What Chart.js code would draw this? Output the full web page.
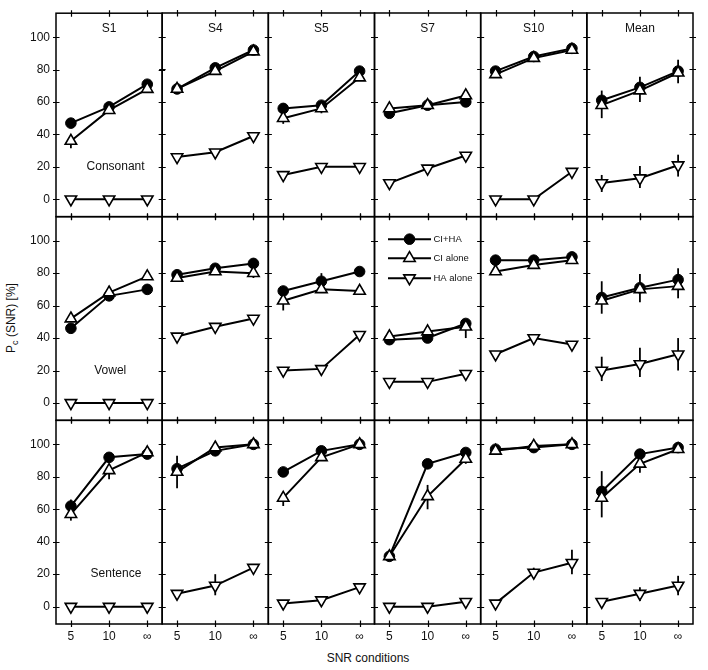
<!DOCTYPE html>
<html><head><meta charset="utf-8">
<script src="https://cdn.jsdelivr.net/npm/chart.js@4/dist/chart.umd.min.js"></script>
<style>
html,body{margin:0;padding:0;background:#fff;}
#wrap{position:relative;width:708px;height:670px;overflow:hidden;font-family:"Liberation Sans",Arial,sans-serif;color:#111;}
#wrap canvas{position:absolute;left:0;top:0;}
.ttl{position:absolute;font-size:12px;white-space:nowrap;line-height:14px;}
.ttl sub{font-size:9px;vertical-align:-3px;}
</style></head><body>
<div id="wrap">
 <div class="ttl" style="left:368px;top:658px;transform:translate(-50%,-50%)">SNR conditions</div>
 <div class="ttl" style="left:13px;top:318px;transform:translate(-50%,-50%) rotate(-90deg)">P<sub>c</sub> (SNR) [%]</div>
</div>
<script>
// ---------------- data ----------------
const subjects = ['S1','S4','S5','S7','S10','Mean'];
const conditions = ['Consonant','Vowel','Sentence'];
const snrLabels = ['5','10','\u221E'];
const seriesNames = ['CI+HA','CI alone','HA alone'];
const yTicks = [0,20,40,60,80,100];

// each: one [5, 10, inf] triple per subject (S1, S4, S5, S7, S10, Mean)
const consonantCIHA = [[47,57,71],[68,81,92],[56,58,79],[53,58,60],[79,88,93],[61,69,79]];
const consonantCI   = [[36,55,68],[68,79,91],[50,56,75],[56,58,64],[77,87,92],[58,67,78]];
const consonantHA   = [[0,0,0],[26,29,39],[15,20,20],[10,19,27],[0,0,17],[10,13,21]];

const vowelCIHA = [[46,66,70],[79,83,86],[69,75,81],[39,40,49],[88,88,90],[65,71,76]];
const vowelCI   = [[52,68,78],[77,81,80],[63,70,69],[41,44,47],[81,85,88],[63,70,72]];
const vowelHA   = [[0,0,0],[41,47,52],[20,21,42],[13,13,18],[30,40,36],[20,24,30]];

const sentenceCIHA = [[62,92,94],[85,96,100],[83,96,100],[31,88,95],[97,98,100],[71,94,98]];
const sentenceCI   = [[57,84,95],[83,98,100],[67,92,100],[31,68,91],[96,99,100],[67,88,97]];
const sentenceHA   = [[0,0,0],[8,13,24],[2,4,12],[0,0,3],[2,21,27],[3,8,13]];

// error bars: [conditionRow, subjectCol, series, snrIndex, low, high]
const errorBars = [
 [0,0,1,0,31.5,36],[0,2,1,0,46.5,50],[0,2,1,1,53,56],
 [0,5,0,0,61,67],[0,5,1,0,50,58],[0,5,0,1,69,75.5],[0,5,1,1,60,67],[0,5,0,2,79,86],[0,5,1,2,71.5,78],
 [0,5,2,0,4.5,15],[0,5,2,1,7,20.5],[0,5,2,2,14,27.5],
 [1,1,1,2,77,80],[1,2,1,0,57,63],[1,2,0,1,75,80],[1,3,1,2,40,47],
 [1,5,0,0,65,75],[1,5,1,0,55,63],[1,5,0,1,71,79.5],[1,5,1,1,62,70],[1,5,0,2,76,83],[1,5,1,2,64.5,72],
 [1,5,2,0,13.5,28.5],[1,5,2,1,16,34],[1,5,2,2,20,40],
 [2,0,0,0,62,66],[2,0,1,0,53,57],[2,0,1,1,78.5,84],[2,0,1,2,91,98.5],
 [2,1,0,0,85,93],[2,1,1,0,73,83],[2,1,2,1,7,20],[2,2,1,0,62,67],
 [2,3,1,1,60,75],[2,3,1,2,88,92],[2,4,2,1,20.5,24],[2,4,2,2,20,35],
 [2,5,0,0,71.5,83.5],[2,5,1,0,55,67],[2,5,1,1,82.5,88],[2,5,2,1,3.5,12],[2,5,2,2,7,19]
];

const seriesByCondition = [
 [consonantCIHA, consonantCI, consonantHA],
 [vowelCIHA, vowelCI, vowelHA],
 [sentenceCIHA, sentenceCI, sentenceHA]
];
const condLabelPos = [[1.17,20],[1.03,20],[1.18,20]];

// ---------------- layout ----------------
const W=708, H=670;
const gridLeft=56, gridTop=13, gridRight=693, gridBottom=624;
const colW=(gridRight-gridLeft)/6, rowH=(gridBottom-gridTop)/3;
const Y_AXIS_W=40, X_AXIS_H=24;
const FONT='"Liberation Sans", Arial, sans-serif';

const seriesStyle = [
 {pointStyle:'circle', pointRadius:5.3, pointBackgroundColor:'#000', pointBorderWidth:1, pointRotation:0, order:1},
 {pointStyle:'triangle', pointRadius:6.6, pointBackgroundColor:'#fff', pointBorderWidth:1.6, pointRotation:0, order:0},
 {pointStyle:'triangle', pointRadius:6.6, pointBackgroundColor:'#fff', pointBorderWidth:1.6, pointRotation:180, order:2}
];

function drawMarker(ctx, st, x, y){
  ctx.save();
  ctx.fillStyle = st.pointBackgroundColor; ctx.strokeStyle='#000'; ctx.lineWidth = st.pointBorderWidth;
  Chart.helpers.drawPoint(ctx, {pointStyle:st.pointStyle, rotation:st.pointRotation, radius:st.pointRadius, borderWidth:st.pointBorderWidth}, x, y);
  ctx.restore();
}

function panelPlugin(r,c){
  return {
    id:'panel',
    beforeDatasetsDraw(chart){
      const ctx=chart.ctx, xs=chart.scales.x, ys=chart.scales.y;
      ctx.save(); ctx.strokeStyle='#000'; ctx.lineWidth=1.8;
      errorBars.filter(e=>e[0]===r&&e[1]===c).forEach(e=>{
        const px=xs.getPixelForValue(e[3]);
        ctx.beginPath(); ctx.moveTo(px, ys.getPixelForValue(e[4])); ctx.lineTo(px, ys.getPixelForValue(e[5])); ctx.stroke();
      });
      ctx.restore();
    },
    afterDraw(chart){
      const ctx=chart.ctx, ca=chart.chartArea, xs=chart.scales.x, ys=chart.scales.y;
      ctx.save();
      ctx.strokeStyle='#000'; ctx.lineWidth=1.5;
      ctx.strokeRect(ca.left, ca.top, ca.right-ca.left, ca.bottom-ca.top);
      ctx.lineWidth=1.2;
      ctx.beginPath();
      yTicks.forEach(v=>{
        const py=Math.round(ys.getPixelForValue(v))+0.5;
        ctx.moveTo(ca.left-3,py); ctx.lineTo(ca.left+3.5,py);
        ctx.moveTo(ca.right-3.5,py); ctx.lineTo(ca.right+3,py);
      });
      snrLabels.forEach((_,i)=>{
        const px=Math.round(xs.getPixelForValue(i))+0.5;
        ctx.moveTo(px,ca.top-3); ctx.lineTo(px,ca.top+3.5);
        ctx.moveTo(px,ca.bottom-3.5); ctx.lineTo(px,ca.bottom+3);
      });
      ctx.stroke();
      ctx.fillStyle='#111'; ctx.textAlign='center'; ctx.textBaseline='middle';
      ctx.font='12px '+FONT;
      if(r===0){ ctx.fillText(subjects[c], xs.getPixelForValue(1), ys.getPixelForValue(105)); }
      if(c===0){ const p=condLabelPos[r]; ctx.fillText(conditions[r], xs.getPixelForValue(p[0]), ys.getPixelForValue(p[1])); }
      if(r===1 && c===3){
        ctx.font='9.5px '+FONT; ctx.textAlign='left';
        const rowsY=[22.5,41.5,61.5];
        seriesNames.forEach((name,s)=>{
          const yy=ca.top+rowsY[s];
          ctx.strokeStyle='#000'; ctx.lineWidth=2;
          ctx.beginPath(); ctx.moveTo(ca.left+13.5,yy); ctx.lineTo(ca.left+56.5,yy); ctx.stroke();
          drawMarker(ctx, seriesStyle[s], ca.left+35, yy);
          ctx.fillStyle='#111';
          ctx.fillText(name, ca.left+59, yy+0.5);
        });
      }
      ctx.restore();
    }
  };
}

const wrap=document.getElementById('wrap');
for(let r=0;r<3;r++){
  for(let c=0;c<6;c++){
    const left=gridLeft+c*colW, top=gridTop+r*rowH;
    const showX = r===2, showY = c===0;
    const cv=document.createElement('canvas');
    cv.width=W; cv.height=H; cv.style.width=W+'px'; cv.style.height=H+'px';
    wrap.appendChild(cv);
    const datasets = seriesByCondition[r].map((arr,s)=>Object.assign({
      label: seriesNames[s],
      data: arr[c].map((v,i)=>({x:i,y:v})),
      borderColor:'#000', borderWidth:2, tension:0, pointBorderColor:'#000',
      pointHoverRadius:0
    }, seriesStyle[s]));
    new Chart(cv, {
      type:'line',
      data:{datasets},
      options:{
        responsive:false, animation:false, devicePixelRatio:1, events:[],
        layout:{padding:{
          left: showY ? left-Y_AXIS_W : left,
          right: W-(left+colW),
          top: top,
          bottom: showX ? H-(top+rowH)-X_AXIS_H : H-(top+rowH)
        }},
        plugins:{legend:{display:false}, tooltip:{enabled:false}},
        scales:{
          x:{type:'linear', min:-0.39, max:2.39, display: showX,
             afterBuildTicks:s=>{ s.ticks=snrLabels.map((_,i)=>({value:i})); },
             afterFit:s=>{ s.height = showX ? X_AXIS_H : 0; },
             ticks:{callback:v=>snrLabels[v], color:'#111', font:{size:12,family:FONT}, padding:5, autoSkip:false, maxRotation:0},
             grid:{display:false, drawTicks:false}, border:{display:false}},
          y:{min:-10.7, max:114.8, display: showY,
             afterBuildTicks:s=>{ s.ticks=yTicks.map(v=>({value:v})); },
             afterFit:s=>{ s.width = showY ? Y_AXIS_W : 0; },
             ticks:{color:'#111', font:{size:12,family:FONT}, padding:6},
             grid:{display:false, drawTicks:false}, border:{display:false}}
        }
      },
      plugins:[panelPlugin(r,c)]
    });
  }
}
</script>
</body></html>
